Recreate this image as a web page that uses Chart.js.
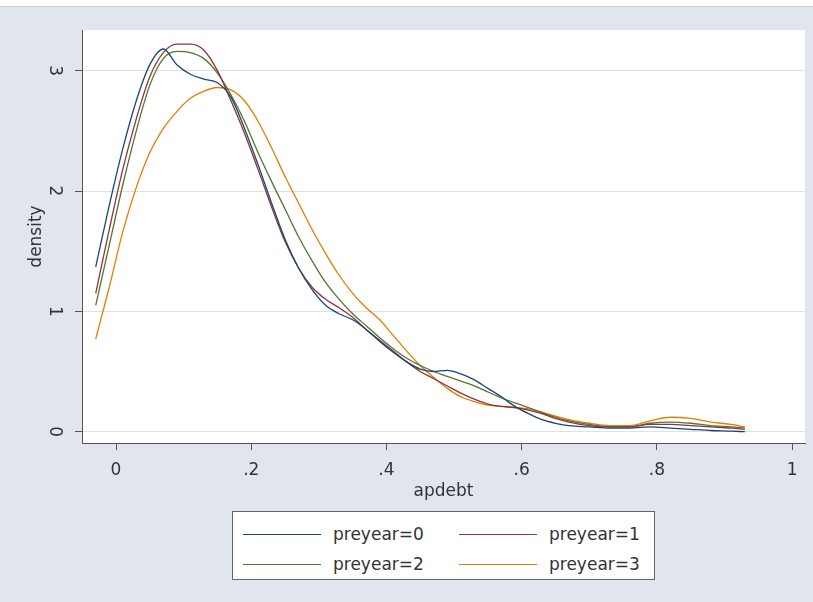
<!DOCTYPE html>
<html>
<head>
<meta charset="utf-8">
<script src="https://cdn.jsdelivr.net/npm/chart.js@4.4.1/dist/chart.umd.min.js"></script>
<style>
  html, body { margin: 0; padding: 0; }
  body { width: 813px; height: 602px; background: #e0e5ee; position: relative; overflow: hidden; font-family: "DejaVu Sans", sans-serif; }
  #strip { position: absolute; left: 0; top: 0; width: 813px; height: 6px; background: #fff; border-bottom: 1px solid #cccccc; }
  #chart { position: absolute; left: 0; top: 0; }
  #legend { position: absolute; left: 232px; top: 511px; width: 421px; height: 67px; background: #fff; border: 1px solid #666; }
  .item { position: absolute; height: 20px; font-size: 17px; color: #333; line-height: 20px; }
  .item span.line { position: absolute; left: 0; top: 10px; width: 78px; height: 0; border-top: 1.3px solid; }
  .item span.txt { position: absolute; left: 90px; top: 0; white-space: nowrap; }
</style>
</head>
<body>
<div id="strip"></div>
<canvas id="chart" width="813" height="602"></canvas>
<div id="legend"></div>
<script>
// kernel density estimates of apdebt, by preyear
const xs = [-0.03, -0.01, 0.01, 0.03, 0.05, 0.07, 0.09, 0.11, 0.13, 0.15, 0.17, 0.19, 0.21, 0.23, 0.25,
            0.27, 0.29, 0.31, 0.33, 0.35, 0.37, 0.39, 0.41, 0.43, 0.45, 0.47, 0.49, 0.51, 0.53, 0.55,
            0.57, 0.59, 0.61, 0.63, 0.65, 0.67, 0.70, 0.73, 0.76, 0.79, 0.82, 0.85, 0.88, 0.91, 0.93];

const pre0 = [1.37, 1.88, 2.35, 2.75, 3.05, 3.18, 3.05, 2.97, 2.93, 2.90, 2.78, 2.52, 2.22, 1.90, 1.60,
              1.36, 1.18, 1.05, 0.98, 0.93, 0.85, 0.75, 0.66, 0.58, 0.52, 0.50, 0.51, 0.48, 0.43, 0.36,
              0.29, 0.21, 0.15, 0.10, 0.07, 0.05, 0.04, 0.03, 0.03, 0.04, 0.03, 0.02, 0.01, 0.005, 0.0];
const pre1 = [1.15, 1.68, 2.18, 2.60, 2.95, 3.15, 3.22, 3.22, 3.17, 3.00, 2.75, 2.48, 2.18, 1.87, 1.58,
              1.36, 1.20, 1.10, 1.03, 0.95, 0.85, 0.76, 0.67, 0.58, 0.50, 0.44, 0.38, 0.32, 0.27, 0.23,
              0.21, 0.20, 0.18, 0.15, 0.11, 0.08, 0.05, 0.04, 0.04, 0.06, 0.06, 0.05, 0.04, 0.03, 0.02];
const pre2 = [1.05, 1.55, 2.05, 2.50, 2.88, 3.10, 3.16, 3.15, 3.10, 2.98, 2.80, 2.58, 2.32, 2.08, 1.85,
              1.62, 1.42, 1.24, 1.10, 0.98, 0.88, 0.78, 0.69, 0.61, 0.55, 0.50, 0.46, 0.42, 0.38, 0.33,
              0.28, 0.24, 0.20, 0.16, 0.12, 0.09, 0.06, 0.04, 0.04, 0.07, 0.08, 0.07, 0.05, 0.04, 0.03];
const pre3 = [0.77, 1.20, 1.66, 2.03, 2.32, 2.52, 2.66, 2.77, 2.83, 2.86, 2.84, 2.75, 2.58, 2.36, 2.12,
              1.90, 1.68, 1.48, 1.30, 1.15, 1.03, 0.93, 0.80, 0.67, 0.55, 0.45, 0.36, 0.29, 0.25, 0.22,
              0.21, 0.20, 0.19, 0.16, 0.13, 0.10, 0.07, 0.05, 0.05, 0.09, 0.12, 0.11, 0.08, 0.06, 0.04];

const seriesNames = ['preyear=0', 'preyear=1', 'preyear=2', 'preyear=3'];
const seriesColors = ['#1a476f', '#90353b', '#55752f', '#e37e00'];
const series = [pre0, pre1, pre2, pre3];

const xTicks = [0, 0.2, 0.4, 0.6, 0.8, 1];
const xTickLabels = ['0', '.2', '.4', '.6', '.8', '1'];
const yTicks = [0, 1, 2, 3];
const yTickLabels = ['0', '1', '2', '3'];

const fnt = { family: 'DejaVu Sans', size: 17 };

// white plot region behind the curves
const plotBg = {
  id: 'plotBg',
  beforeDraw(chart) {
    const { ctx, chartArea: a } = chart;
    ctx.save();
    ctx.fillStyle = '#ffffff';
    ctx.fillRect(a.left, a.top, a.right - a.left, a.bottom - a.top);
    ctx.restore();
  }
};

const chart = new Chart(document.getElementById('chart'), {
  type: 'line',
  data: {
    datasets: series.map((vals, i) => ({
      label: seriesNames[i],
      data: xs.map((x, j) => ({ x: x, y: vals[j] })),
      borderColor: seriesColors[i],
      borderWidth: 1.3,
      pointRadius: 0,
      fill: false,
      cubicInterpolationMode: 'monotone'
    }))
  },
  options: {
    responsive: false,
    animation: false,
    events: [],
    layout: { padding: { top: 30, right: 8, bottom: 97, left: 0 } },
    plugins: { legend: { display: false }, tooltip: { enabled: false } },
    scales: {
      x: {
        type: 'linear',
        min: -0.0503,
        max: 1.019,
        afterBuildTicks: s => { s.ticks = xTicks.map(v => ({ value: v })); },
        afterFit: s => { s.height = 62; },
        grid: { drawOnChartArea: false, tickLength: 7, tickColor: '#555' },
        border: { color: '#555' },
        ticks: {
          padding: 10, maxRotation: 0, color: '#333', font: fnt,
          callback: v => xTickLabels[xTicks.indexOf(v)]
        },
        title: { display: true, text: 'apdebt', color: '#333', font: fnt, padding: { top: 0, bottom: 3 } }
      },
      y: {
        min: -0.094,
        max: 3.338,
        afterBuildTicks: s => { s.ticks = yTicks.map(v => ({ value: v })); },
        afterFit: s => { s.width = 82; },
        grid: { color: '#dde2e8', tickLength: 7, tickColor: '#555' },
        border: { color: '#555' },
        ticks: {
          padding: 15, minRotation: -90, crossAlign: 'center', color: '#333', font: fnt,
          callback: v => yTickLabels[yTicks.indexOf(v)]
        },
        title: { display: true, text: 'density', color: '#333', font: fnt, padding: { top: 26, bottom: 0 } }
      }
    }
  },
  plugins: [plotBg]
});

// two-column boxed legend
const legend = document.getElementById('legend');
const colLeft = [10, 226];
const rowTop = [12, 42];
chart.data.datasets.forEach((ds, i) => {
  const it = document.createElement('div');
  it.className = 'item';
  it.style.left = colLeft[i % 2] + 'px';
  it.style.top = rowTop[Math.floor(i / 2)] + 'px';
  it.innerHTML = '<span class="line" style="border-top-color:' + ds.borderColor + '"></span><span class="txt">' + ds.label + '</span>';
  legend.appendChild(it);
});
</script>
</body>
</html>
